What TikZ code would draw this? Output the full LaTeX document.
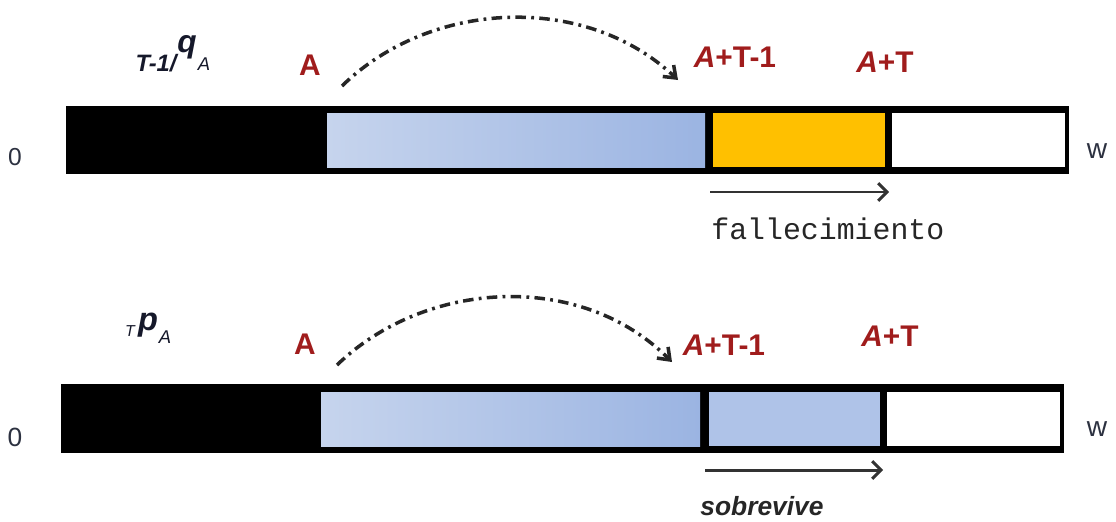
\documentclass[tikz,border=0pt]{standalone}
\usepackage{fontspec}
\setmainfont{Liberation Sans}
\newfontfamily\monof{Liberation Mono}
\usetikzlibrary{arrows.meta}
\definecolor{lblred}{HTML}{A01C1C}
\definecolor{blueL}{HTML}{C6D4ED}
\definecolor{blueR}{HTML}{9BB4E2}
\definecolor{blueS}{HTML}{AFC3E8}
\definecolor{orng}{HTML}{FFC000}
\definecolor{axisg}{HTML}{2C3140}
\definecolor{mathc}{HTML}{15182A}
\tikzset{
  redlbl/.style={text=lblred, font=\fontsize{17}{17}\selectfont\bfseries, inner sep=0pt},
  axislbl/.style={text=axisg, font=\fontsize{14}{14}\selectfont, inner sep=0pt},
  wlbl/.style={text=axisg, font=\fontsize{16}{16}\selectfont, inner sep=0pt},
  jump/.style={line width=2pt, black!85, dash pattern=on 6pt off 3pt on 1.6pt off 3pt,
     -{Straight Barb[length=6pt,width=9pt,line width=2pt]}},
  span/.style={line width=1.7pt, black!80, -{Straight Barb[length=5pt,width=10pt,line width=1.7pt]}},
}
\begin{document}
\begin{tikzpicture}[x=0.02cm,y=-0.02cm]
\useasboundingbox (0,0) rectangle (1116,521);

% ---------- top bar ----------
\fill[black] (66,106) rectangle (1069,174);
\shade[left color=blueL, right color=blueR] (327,113) rectangle (705,167);
\fill[orng] (713,113) rectangle (885,167);
\fill[white] (892,113) rectangle (1065,167);

\node[axislbl] (z1) at (15,157) {0};
\node[wlbl] (w1) at (1097,151) {w};

\node[text=mathc, font=\fontsize{13.5}{13.5}\selectfont\bfseries\itshape, inner sep=0pt] (q1) at (156,63) {T-1/};
\node[text=mathc, font=\fontsize{18}{18}\selectfont\bfseries\itshape, inner sep=0pt] (q2) at (187,47) {q};
\node[text=mathc, font=\fontsize{10.5}{10.5}\selectfont\itshape, inner sep=0pt] (q3) at (204,64) {A};

\node[redlbl] (a1) at (310,65) {A};
\node[redlbl] (b1) at (735,57) {\textit{A}+T-1};
\node[redlbl] (c1) at (885,62) {\textit{A}+T};

\coordinate (s1) at (342,86);
\coordinate (e1) at (678,80);
\draw[jump] (s1) .. controls (430,0) and (585,-8) .. (e1);

\coordinate (f1) at (710,192);
\coordinate (g1) at (889,192);
\draw[span] (f1) -- (g1);
\node[font=\fontsize{17}{17}\selectfont\monof, text=black!85, inner sep=0pt, anchor=west] (t1) at (711,229) {fallecimiento};

% ---------- bottom bar ----------
\fill[black] (61,384) rectangle (1064,453);
\shade[left color=blueL, right color=blueR] (321,392) rectangle (700,446);
\fill[blueS] (709,392) rectangle (880,446);
\fill[white] (887,392) rectangle (1060,446);

\node[axislbl, font=\fontsize{15}{15}\selectfont] (z2) at (15,437) {0};
\node[wlbl] (w2) at (1097,429) {w};

\node[text=mathc, font=\fontsize{9}{9}\selectfont\itshape, inner sep=0pt] (p1) at (130,331) {T};
\node[text=mathc, font=\fontsize{18.5}{18.5}\selectfont\bfseries\itshape, inner sep=0pt] (p2) at (148,325) {p};
\node[text=mathc, font=\fontsize{10.5}{10.5}\selectfont\itshape, inner sep=0pt] (p3) at (165,337) {A};

\node[redlbl] (a2) at (305,344) {A};
\node[redlbl] (b2) at (724,345) {\textit{A}+T-1};
\node[redlbl] (c2) at (890,336) {\textit{A}+T};

\coordinate (s2) at (337,365);
\coordinate (e2) at (672,362);
\draw[jump] (s2) .. controls (425,280) and (580,270) .. (e2);

\coordinate (f2) at (705,470);
\coordinate (g2) at (883,470);
\draw[span] (f2) -- (g2);
\node[font=\fontsize{15}{15}\selectfont\bfseries\itshape, text=black!85, inner sep=0pt] (t2) at (762,506) {sobrevive};
\end{tikzpicture}
\end{document}
